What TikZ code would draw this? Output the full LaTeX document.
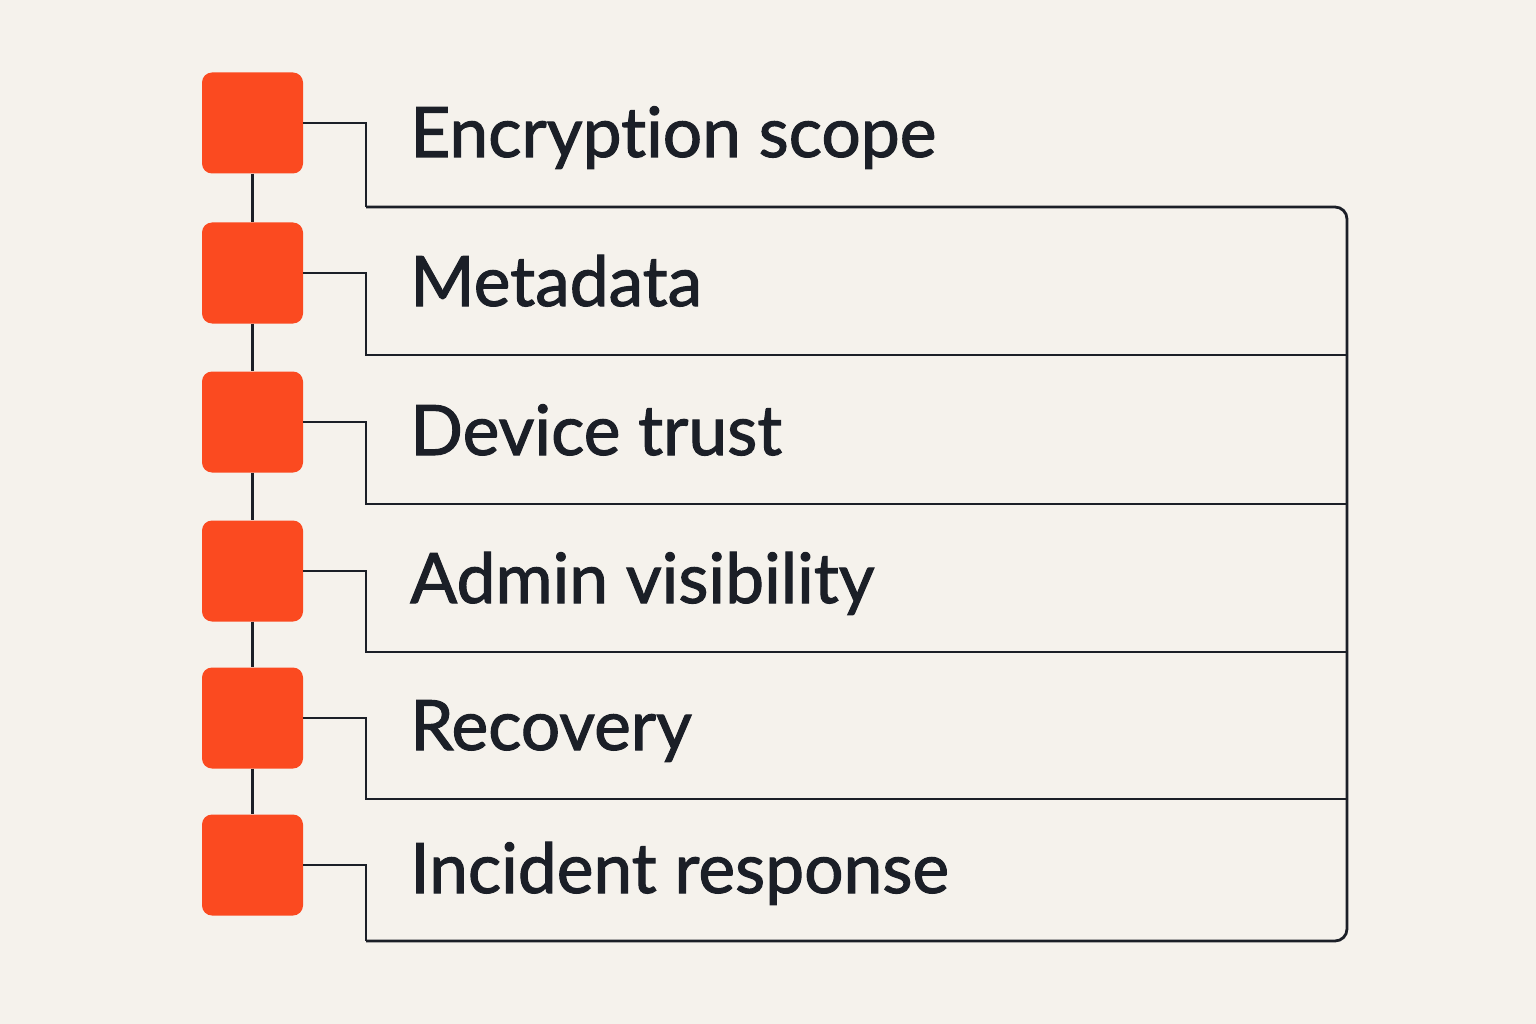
\documentclass[tikz,border=0pt]{standalone}
\usepackage{fontspec}
\setmainfont{Lato}[FakeBold=1.5,Ligatures={NoCommon,NoRare,NoContextual}]
\definecolor{paper}{HTML}{F5F2EC}
\definecolor{brick}{HTML}{FB4A20}
\definecolor{ink}{HTML}{1B1F27}
\tikzset{
	block/.style={fill=brick,rounded corners=10pt,minimum size=101pt,inner sep=0pt},
	topic/.style={anchor=base west,inner sep=0pt,text=ink,font=\fontsize{69.5}{80}\selectfont},
	wire/.style={draw=ink,line width=2.8pt}
}
\begin{document}
\begin{tikzpicture}[x=1pt,y=-1pt]
	\fill[paper] (0,0) rectangle (1536,1024);
	\useasboundingbox (0,0) rectangle (1536,1024);
	\node[block] (sq1) at (252.5,123) {};
	\node[block] (sq2) at (252.5,273) {};
	\node[block] (sq3) at (252.5,422) {};
	\node[block] (sq4) at (252.5,571) {};
	\node[block] (sq5) at (252.5,718) {};
	\node[block] (sq6) at (252.5,865) {};
	\node[topic] (lab1) at (410,157) {Encryption scope};
	\node[topic] (lab2) at (410,306) {Metadata};
	\node[topic] (lab3) at (410,455) {Device trust};
	\node[topic] (lab4) at (410,603) {Admin visibility};
	\node[topic] (lab5) at (410,750) {Recovery};
	\node[topic] (lab6) at (410,893) {Incident response};
	\coordinate (k1) at (366,207);
	\coordinate (k2) at (366,355);
	\coordinate (k3) at (366,504);
	\coordinate (k4) at (366,652);
	\coordinate (k5) at (366,799);
	\coordinate (k6) at (366,941);
	\coordinate (e1) at (1347,207);
	\coordinate (e2) at (1347,355);
	\coordinate (e3) at (1347,504);
	\coordinate (e4) at (1347,652);
	\coordinate (e5) at (1347,799);
	\coordinate (e6) at (1347,941);
	\draw[wire] (sq1.south) -- (sq2.north);
	\draw[wire] (sq2.south) -- (sq3.north);
	\draw[wire] (sq3.south) -- (sq4.north);
	\draw[wire] (sq4.south) -- (sq5.north);
	\draw[wire] (sq5.south) -- (sq6.north);
	\draw[wire] (sq1.east) -| (k1);
	\draw[wire] (sq2.east) -| (k2) -- (e2);
	\draw[wire] (sq3.east) -| (k3) -- (e3);
	\draw[wire] (sq4.east) -| (k4) -- (e4);
	\draw[wire] (sq5.east) -| (k5) -- (e5);
	\draw[wire] (sq6.east) -| (k6);
	\draw[wire,rounded corners=12pt] (k1) -- (e1) -- (e6) -- (k6);
\end{tikzpicture}
\end{document}
